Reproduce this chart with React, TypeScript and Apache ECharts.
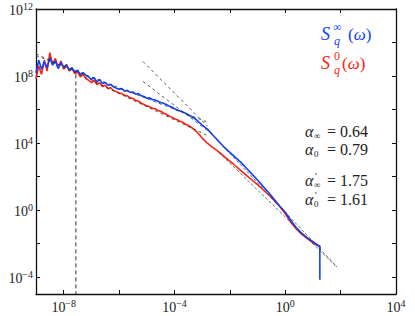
import React, { useEffect, useRef } from "react";
import * as echarts from "echarts";

// log10 of frequency (omega)
const logFreq = [
  -9.0, -8.9, -8.8, -8.7, -8.6, -8.5, -8.4, -8.3, -8.2, -8.1,
  -8.0, -7.9, -7.8, -7.7, -7.6, -7.5, -7.4, -7.3, -7.2, -7.1,
  -7.0, -6.9, -6.8, -6.7, -6.6, -6.5, -6.4, -6.3, -6.2, -6.1,
  -6.0, -5.9, -5.8, -5.7, -5.6, -5.5, -5.4, -5.3, -5.2, -5.1,
  -5.0, -4.9, -4.8, -4.7, -4.6, -4.5, -4.4, -4.3, -4.2, -4.1,
  -4.0, -3.9, -3.8, -3.7, -3.6, -3.5, -3.4, -3.3, -3.2, -3.1,
  -3.0, -2.8, -2.6, -2.4, -2.2, -2.0, -1.8, -1.6, -1.4, -1.2,
  -1.0, -0.8, -0.6, -0.4, -0.2, 0.0, 0.2, 0.4, 0.6, 0.8,
  1.0, 1.1, 1.2, 1.25, 1.25,
];

// log10 of S_q^inf(omega) (blue)
const logSInf = [
  8.2, 8.95, 8.4, 8.85, 8.5, 9.1, 8.65, 8.9, 8.45, 8.8,
  8.55, 8.65, 8.35, 8.5, 8.25, 8.35, 8.1, 8.2, 8.05, 7.95,
  7.8, 7.9, 7.65, 7.8, 7.55, 7.62, 7.45, 7.5, 7.35, 7.28,
  7.22, 7.25, 7.1, 7.15, 7.02, 7.05, 6.92, 6.95, 6.82, 6.78,
  6.68, 6.7, 6.6, 6.58, 6.5, 6.42, 6.38, 6.3, 6.22, 6.15,
  6.05, 5.98, 5.92, 5.85, 5.78, 5.68, 5.6, 5.5, 5.38, 5.22,
  5.08, 4.82, 4.45, 4.1, 3.75, 3.45, 3.15, 2.85, 2.5, 2.15,
  1.8, 1.42, 1.05, 0.65, 0.25, -0.12, -0.6, -1.05, -1.38, -1.65,
  -1.88, -2.0, -2.12, -2.2, -4.15,
];

// log10 of S_q^0(omega) (red)
const logS0 = [
  7.85, 8.6, 8.1, 8.95, 8.3, 9.4, 8.7, 9.05, 8.45, 8.9,
  8.4, 8.7, 8.3, 8.45, 8.15, 8.25, 7.95, 8.1, 7.85, 7.75,
  7.6, 7.75, 7.5, 7.6, 7.38, 7.45, 7.25, 7.3, 7.12, 7.08,
  6.98, 6.95, 6.85, 6.82, 6.7, 6.66, 6.55, 6.5, 6.38, 6.3,
  6.22, 6.18, 6.08, 6.05, 5.95, 5.9, 5.8, 5.72, 5.62, 5.55,
  5.45, 5.4, 5.3, 5.25, 5.12, 5.05, 4.95, 4.82, 4.68, 4.5,
  4.3, 3.98, 3.72, 3.48, 3.2, 2.92, 2.65, 2.36, 2.08, 1.8,
  1.52, 1.22, 0.92, 0.58, 0.22, -0.2, -0.72, -1.12, -1.45, -1.7,
  -1.95, -2.05, -2.1, -2.12, -2.35,
];

// dashed reference lines (log10 coordinates)
const cutoffLine = [[-7.56, 8.1], [-7.56, -5]];
const fitAlphaInf = [[-9.0, 9.22], [-2.85, 5.28]];
const fitAlpha0 = [[-9.0, 9.33], [-2.85, 4.48]];
const fitPrimeInf = [[-2.5, 4.26], [1.87, -3.39]];
const fitPrime0 = [[-2.4, 3.45], [1.87, -3.4]];
const guideA = [[-5.14, 8.87], [-2.8, 5.0]];
const guideB = [[-5.14, 7.68], [-2.6, 4.49]];

// axes (exponents)
const xMin = -9, xMax = 4, yMin = -5, yMax = 12;
const xTickValues = [-8, -6, -4, -2, 0, 2];
const xLabelValues = [-8, -4, 0, 4];
const yTickValues = [-4, -2, 0, 2, 4, 6, 8, 10];
const yLabelValues = [-4, 0, 4, 8, 12];

const alphaTexts = [
  { sub: "\u221E", prime: false, val: "= 0.64" },
  { sub: "0", prime: false, val: "= 0.79" },
  { sub: "\u221E", prime: true, val: "= 1.75" },
  { sub: "0", prime: true, val: "= 1.61" },
];

const FAMILY = "\"Liberation Serif\", \"DejaVu Serif\", serif";
const BLUE = "#1040ff";
const RED = "#ff2010";
const DASH = "#333333";
const INK = "#222222";

const supStr = (v: number) => (v < 0 ? "\u2212" + Math.abs(v) : String(v));
const fontStr = (size: number, italic = false) => `${italic ? "italic " : ""}${size}px ${FAMILY}`;

function txt(text: string, x: number, y: number, size: number, color: string, italic = false) {
  return {
    type: "text",
    x,
    y,
    silent: true,
    style: {
      text,
      fill: color,
      font: fontStr(size, italic),
      align: "left",
      verticalAlign: "middle",
    },
  };
}

function omegaText(x: number, y: number, color: string) {
  return {
    type: "text", x, y, silent: true,
    style: {
      text: "{p|(}{w|\u03C9}{p|)}", verticalAlign: "middle", align: "left",
      rich: {
        p: { font: fontStr(17), fill: color },
        w: { font: fontStr(17, true), fill: color },
      },
    },
  };
}

export default function App() {
  const ref = useRef<HTMLDivElement>(null);

  useEffect(() => {
    if (!ref.current) return;
    const chart = echarts.init(ref.current, undefined, { renderer: "svg" });

    const labelRich = {
      b: { fontFamily: FAMILY, fontSize: 14, lineHeight: 16, verticalAlign: "bottom", color: INK },
      s: { fontFamily: FAMILY, fontSize: 10, lineHeight: 16, verticalAlign: "top", color: INK },
    };
    const fmt = (v: number) => `{b|10}{s|${supStr(v)}}`;

    const axisLineStyle = { onZero: false, lineStyle: { color: "#111", width: 1.3 } };
    const tickStyle = (vals: number[]) => ({
      show: true,
      inside: true,
      length: 4,
      customValues: vals,
      lineStyle: { color: "#111", width: 1 },
    });

    const dashed = (data: number[][], dash: number[] = [3, 3], w = 0.8) => ({
      type: "line",
      data,
      showSymbol: false,
      silent: true,
      lineStyle: { color: DASH, width: w, type: dash },
      z: 5,
    });

    const graphics: any[] = [];
    graphics.push(txt("S", 321, 34, 18, BLUE, true));
    graphics.push(txt("\u221E", 333, 27, 12, BLUE));
    graphics.push(txt("q", 334, 41, 12, BLUE, true));
    graphics.push(omegaText(348, 34, BLUE));
    graphics.push(txt("S", 321, 63, 18, RED, true));
    graphics.push(txt("0", 334, 56, 12, RED));
    graphics.push(txt("q", 334, 70, 12, RED, true));
    graphics.push(omegaText(342, 63, RED));

    const rowsY = [131, 149, 180, 199];
    alphaTexts.forEach((t, i) => {
      const y = rowsY[i];
      graphics.push(txt("\u03B1", 305, y, 16, INK, true));
      if (t.prime) graphics.push(txt("'", 315, y - 4, 10, INK));
      graphics.push(txt(t.sub, 314, y + 5, 9, INK));
      graphics.push(txt(t.val, 327, y, 16, INK));
    });

    chart.setOption({
      animation: false,
      backgroundColor: "#ffffff",
      grid: { left: 36, right: 19, top: 9, bottom: 22, containLabel: false, outerBoundsMode: "none" },
      xAxis: [
        {
          type: "value", min: xMin, max: xMax, position: "bottom",
          axisLine: axisLineStyle,
          axisTick: tickStyle(xTickValues),
          axisLabel: { show: true, customValues: xLabelValues, formatter: fmt, rich: labelRich, margin: 4 },
          splitLine: { show: false },
        },
        {
          type: "value", min: xMin, max: xMax, position: "top",
          axisLine: axisLineStyle,
          axisTick: tickStyle(xTickValues),
          axisLabel: { show: false },
          splitLine: { show: false },
        },
      ],
      yAxis: [
        {
          type: "value", min: yMin, max: yMax, position: "left",
          axisLine: axisLineStyle,
          axisTick: tickStyle(yTickValues),
          axisLabel: { show: true, customValues: yLabelValues, formatter: fmt, rich: labelRich, margin: 3 },
          splitLine: { show: false },
        },
        {
          type: "value", min: yMin, max: yMax, position: "right",
          axisLine: axisLineStyle,
          axisTick: tickStyle(yTickValues),
          axisLabel: { show: false },
          splitLine: { show: false },
        },
      ],
      series: [
        {
          type: "line", name: "S0", data: logFreq.map((x, i) => [x, logS0[i]]),
          showSymbol: false, lineStyle: { color: RED, width: 1.6 }, z: 2,
        },
        {
          type: "line", name: "Sinf", data: logFreq.map((x, i) => [x, logSInf[i]]),
          showSymbol: false, lineStyle: { color: BLUE, width: 1.6 }, z: 3,
        },
        dashed(cutoffLine, [4, 3], 1),
        dashed(fitAlphaInf),
        dashed(fitAlpha0),
        dashed(fitPrimeInf, [3, 2], 0.7),
        dashed(fitPrime0, [3, 2], 0.7),
        dashed(guideA),
        dashed(guideB),
      ],
      graphic: graphics,
    });

    return () => chart.dispose();
  }, []);

  return (
    <div
      ref={ref}
      style={{ position: "fixed", left: 0, top: 0, width: 415, height: 316, background: "#fff" }}
    />
  );
}
